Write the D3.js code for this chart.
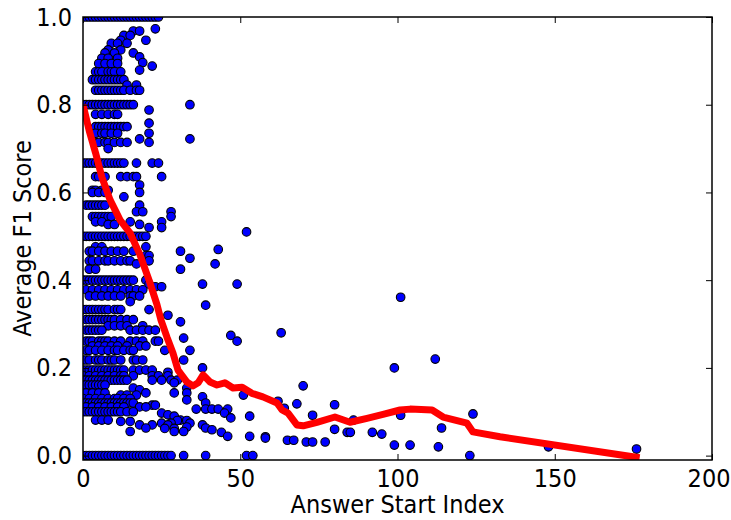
<!DOCTYPE html>
<html><head><meta charset="utf-8">
<script src="https://cdn.jsdelivr.net/npm/d3@7"></script>
<style>
html,body{margin:0;padding:0;background:#fff;}
text{font-family:'DejaVu Sans Condensed','DejaVu Sans',sans-serif;font-stretch:condensed;}
</style></head>
<body><svg id="chart" width="731" height="520"></svg>
<script>
// ---- data ----
const xTicks = [0, 50, 100, 150, 200];
const yTicks = [0.0, 0.2, 0.4, 0.6, 0.8, 1.0];
const xTitle = "Answer Start Index";
const yTitle = "Average F1 Score";

// points grouped by F1 level: bandLevels[i] holds the y value of every x in bandXs[i]
const bandLevels = [1.0,0.973,0.968,0.958,0.947,0.94,0.925,0.918,0.909,0.906,0.896,0.894,0.888,0.879,0.875,0.857,0.845,0.833,
  0.8,0.788,0.778,0.758,0.75,0.735,0.722,0.714,0.7,0.667,0.636,0.617,0.605,0.6,0.59,0.571,0.556,0.545,0.533,0.527,0.52,
  0.51,0.5,0.476,0.47,0.466,0.456,0.45,0.444,0.437,0.425,0.4,0.391,0.385,0.378,0.364,0.361,0.351,0.343,0.333,0.32,0.31,0.305,
  0.296,0.286,0.28,0.274,0.268,0.261,0.25,0.24,0.22,0.218,0.2,0.195,0.19,0.182,0.172,0.166,0.161,0.159,0.154,0.15,0.143,0.138,0.134,
  0.13,0.127,0.124,0.12,0.118,0.116,0.115,0.111,0.108,0.106,0.1,0.097,0.095,0.093,0.092,0.09,0.086,0.081,0.08,0.078,0.074,0.07,0.065,
  0.063,0.062,0.06,0.059,0.055,0.053,0.049,0.044,0.043,0.04,0.035,0.031,0.024,0.02,0.015,0.0];
const bandXs = [
  [0,1,2,3,4,5,6,7,8,9,10,11,12,13,14,15,16,17,18,19,20,21,22,23,24],
  [23],[16,18],[13,15],[12,20],[9,11,14],[8,12],[7,10,16],[18],[6,8,11],[19],[5,7,9,11],[22],[18],
  [4,5,6,8,9,10,12],
  [3,4,5,6,7,8,9,10,11,12,13],
  [14,17],
  [4,5,6,7,8,9,10,11,12,13,15,17,18],
  [0,1,2,3,4,5,6,7,8,9,10,11,12,13,14,15,16,34],
  [21],[4,6,8,10,11],[21],
  [4,5,6,7,8,9,10,11,12,13,14],
  [4,6,7,9,11,21],[18,34],[4,5,7,8,10,12,14,21],[8],
  [0,1,2,3,4,5,6,7,8,9,10,11,12,13,17,22,24],
  [4,5,7,12,14,16,17,25],[18],[3,4,6,8],[3,5,7,18],[13],
  [1,2,3,4,5,6,7,18],[17,19,28],[3,4,5,6,7,8,9,28],[4,6,15,25],[8,10,18],[21,25],
  [52],
  [0,1,2,3,4,5,6,7,8,9,10,11,12,13,14,15,16,17,18,19,20],
  [4,6,20],[43],[2,3,5,7,9,11,13,16,31],[20,21],[34],
  [2,3,5,7,8,10,12,14,15,21],[17,42],[2,4,31],
  [0,1,2,3,4,5,6,7,8,9,10,11,12,13,14,15,16,20],
  [21,38,49],[23,25],[1,3,5,7,9,11,13,15,17,19],[2,4,6,8,10,12,15,16,18],[101],[15],[39],
  [0,1,2,3,4,5,6,7,8,10,11,12,21],
  [27],[1,2,3,4,5,6,7,8,9,10,12,14,16],[31],
  [8,10,12,14,19],
  [1,2,3,4,5,6,15,17,19,21,23],[63],[47],[32],
  [1,2,3,5,6,7,8,10,12,15,17,19,23,24,49],
  [3,5,7,9,11,14,18,20],
  [1,2,4,6,8,10,11,13,15,16,26,34],[112],
  [0,1,2,4,5,6,8,9,10,12,16,17,19,32],[38,99],
  [0,1,2,3,4,5,6,7,8,9,10,11,12,13,16,18,20,22],[27],
  [0,2,4,6,8,10,12,13,16,22,24,27],
  [0,1,2,3,4,5,6,7,8,9,10,11,12,13,14,22,25,28,30],
  [29],[0,1,2,3,4,5,6,7],[70],[16,33],[18],[1,3,5,7,20,29,33],[12,14,17,51],[38],
  [0,2,4,6,8,10,11,13,15],
  [33],[62],
  [0,1,2,3,4,5,6,7,8,9,10,11,12,13,14,15,16,39],
  [68],[80],[22,23],
  [1,3,5,7,9,11,13,18,20],
  [64],[36,39,41,43,46],
  [0,1,2,3,4,5,6,7,8,9,10,11,12,14,16],
  [25,45],[124],[27],[73,101],[29,53],[47],[4,6,8,31,86],[30,33],[12,15],[25,28,34],[18,22,27,38],[33],
  [20,39,114],[26,29],[80],[41],[15,29,32],[44,84,85,92],[95],[46,53],[58],[58],[65,67],[71,73,77],
  [99,104],[113,148],[176],
  [0,1,2,3,4,5,6,7,8,9,10,11,12,13,14,15,16,17,18,19,20,21,22,23,24,25,26,27,28,32,39,52,54,123]
];

// red trend line
const trendX = [0,2,4,6,8.6,11.8,15,18,21,23.5,24.8,26.7,28.6,30.2,33,35,36.6,38.2,40.4,42.6,45.1,47.7,50.6,53.7,57.2,61.7,63.3,65.2,68,70,74.4,80.1,84.9,90.3,95.4,100.8,104,111,114.5,122.1,124,132.6,177];
const trendY = [0.80,0.74,0.69,0.635,0.583,0.537,0.507,0.46,0.40,0.345,0.309,0.27,0.234,0.195,0.168,0.159,0.166,0.184,0.168,0.161,0.166,0.154,0.156,0.142,0.134,0.12,0.104,0.097,0.07,0.068,0.076,0.088,0.076,0.085,0.094,0.104,0.106,0.104,0.088,0.074,0.054,0.043,-0.005];

// ---- chart ----
const svg = d3.select("#chart");
const L = 83, R = 712, T = 17, B = 460;
const x = d3.scaleLinear().domain([0, 200]).range([L, R]);
const y = d3.scaleLinear().domain([-0.01, 1.0]).range([B, T]);

svg.append("defs").append("clipPath").attr("id", "plotclip")
  .append("rect").attr("x", L).attr("y", T).attr("width", R - L).attr("height", B - T);

const pts = [];
bandLevels.forEach((lv, i) => bandXs[i].forEach(v => pts.push([v, lv])));

const plot = svg.append("g").attr("clip-path", "url(#plotclip)");
plot.selectAll("circle").data(pts).join("circle")
  .attr("cx", d => x(d[0])).attr("cy", d => y(d[1])).attr("r", 4.3)
  .attr("fill", "#0000ff").attr("stroke", "#000").attr("stroke-width", 1.1);

const line = d3.line().x((d, i) => x(trendX[i])).y((d, i) => y(trendY[i]));
plot.append("path").datum(trendX).attr("d", line)
  .attr("fill", "none").attr("stroke", "#ff0000").attr("stroke-width", 7)
  .attr("stroke-linejoin", "round").attr("stroke-linecap", "butt");

// axes with inward ticks
const fs = 25;
const gx = svg.append("g").attr("transform", `translate(0,${B})`)
  .call(d3.axisBottom(x).tickValues(xTicks).tickSize(-6).tickPadding(9).tickFormat(d3.format("d")));
const gxt = svg.append("g").attr("transform", `translate(0,${T})`)
  .call(d3.axisTop(x).tickValues(xTicks).tickSize(-6).tickFormat(""));
const gy = svg.append("g").attr("transform", `translate(${L},0)`)
  .call(d3.axisLeft(y).tickValues(yTicks).tickSize(-6).tickPadding(11).tickFormat(d3.format(".1f")));
const gyr = svg.append("g").attr("transform", `translate(${R},0)`)
  .call(d3.axisRight(y).tickValues(yTicks).tickSize(-6).tickFormat(""));
[gx, gxt, gy, gyr].forEach(g => {
  g.select(".domain").remove();
  g.selectAll(".tick line").attr("stroke", "#000").attr("stroke-width", 1);
  g.selectAll("text").attr("fill", "#000").style("font-size", fs + "px");
});
gx.selectAll("text").attr("dy", "0.71em");
// last x label sits flush with the right edge of the figure
gx.selectAll(".tick").filter(d => d === 200).select("text")
  .attr("text-anchor", "end").attr("x", 730 - R);

svg.append("rect").attr("x", L).attr("y", T).attr("width", R - L).attr("height", B - T)
  .attr("fill", "none").attr("stroke", "#000").attr("stroke-width", 1.5);

svg.append("text").attr("x", (L + R) / 2).attr("y", 513).attr("text-anchor", "middle")
  .style("font-size", fs + "px").attr("fill", "#000").text(xTitle);
svg.append("text").attr("transform", `translate(31,${(T + B) / 2}) rotate(-90)`)
  .attr("text-anchor", "middle").style("font-size", fs + "px").attr("fill", "#000").text(yTitle);
</script></body></html>
